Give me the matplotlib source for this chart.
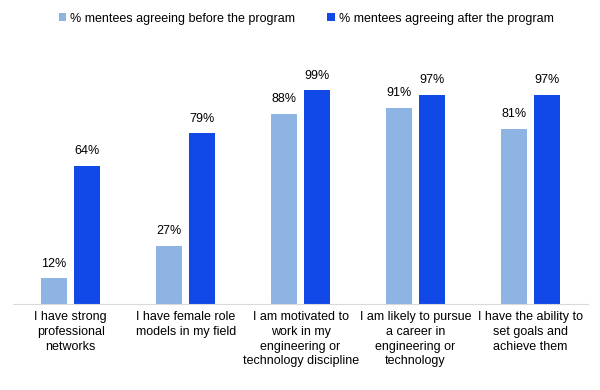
import matplotlib.pyplot as plt
import numpy as np

plt.rcParams['font.family'] = ['Liberation Sans', 'DejaVu Sans']

categories = ['I have strong\nprofessional\nnetworks',
              'I have female role\nmodels in my field',
              'I am motivated to\nwork in my\nengineering or\ntechnology discipline',
              'I am likely to pursue\na career in\nengineering or\ntechnology',
              'I have the ability to\nset goals and\nachieve them']
before = [12, 27, 88, 91, 81]
after = [64, 79, 99, 97, 97]
labels = ['% mentees agreeing before the program', '% mentees agreeing after the program']

fig = plt.figure(figsize=(6, 3.9), dpi=100)
ax = fig.add_axes([0.022, 0.22, 0.958, 0.665])

x = np.arange(len(categories))
w = 0.225
b1 = ax.bar(x - 0.145, before, w, color='#8EB4E3', label=labels[0])
b2 = ax.bar(x + 0.145, after, w, color='#1049E8', label=labels[1])

for bars in (b1, b2):
    for r in bars:
        ax.text(r.get_x() + r.get_width() / 2, r.get_height() + 4, f'{r.get_height():.0f}%',
                ha='center', va='bottom', fontsize=9)

ax.set_xlim(-0.5, len(categories) - 0.5)
ax.set_ylim(0, 120)
ax.set_yticks([])
ax.set_xticks(x)
ax.set_xticklabels(categories, fontsize=9, linespacing=1.3, va='top')
ax.tick_params(axis='x', length=0, pad=5)
for s in ['top', 'right', 'left']:
    ax.spines[s].set_visible(False)
ax.spines['bottom'].set_color('#D9D9D9')

fig.legend(loc='center', bbox_to_anchor=(0.51, 0.952), ncol=2, frameon=False, fontsize=9,
           handlelength=0.6, handleheight=0.6, handletextpad=0.3, columnspacing=2.6)

plt.savefig('out.png')
